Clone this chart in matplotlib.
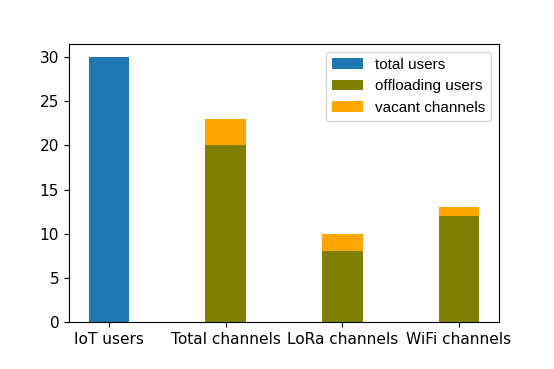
import numpy as np
import matplotlib
matplotlib.use("Agg")
import matplotlib.pyplot as plt

categorias = ["IoT users", "Total channels", "LoRa channels", "WiFi channels"]
usuarios_totales = [30, 0, 0, 0]
usuarios_offload = [0, 20, 8, 12]
canales_libres = [0, 3, 2, 1]

x = np.arange(len(categorias))
ancho = 0.35

fig = plt.figure(figsize=(5.54, 3.69), dpi=100)
ax = fig.add_axes([69/554, 1-322/369, 430/554, 278/369])

ax.bar(x[:1], usuarios_totales[:1], ancho, color="#1f77b4", label="total users")
ax.bar(x[1:], usuarios_offload[1:], ancho, color="olive", label="offloading users")
ax.bar(x[1:], canales_libres[1:], ancho, bottom=usuarios_offload[1:],
       color="orange", label="vacant channels")

ax.set_xticks(x)
ax.set_xticklabels(categorias, fontsize=11.1)
ax.tick_params(axis="y", labelsize=11.1)
ax.set_yticks([0, 5, 10, 15, 20, 25, 30])
ax.legend(loc="upper right", prop={"family": "Liberation Sans", "size": 11})

fig.savefig("out.png", dpi=100)
